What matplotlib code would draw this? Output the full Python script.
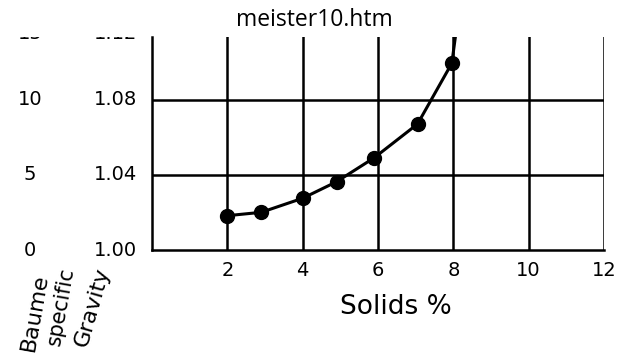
import matplotlib.pyplot as plt
from matplotlib.transforms import Bbox, TransformedBbox

# solids % vs specific gravity
solids = [2.0, 2.9, 4.0, 4.9, 5.9, 7.05, 7.96]
gravity = [1.0183, 1.0201, 1.0276, 1.0364, 1.0492, 1.0672, 1.0996]
# the hand drawn curve keeps going up past the last point
curve_x = solids + [8.07]
curve_y = gravity + [1.116]

x_ticks = [2, 4, 6, 8, 10, 12]
sg_ticks = [1.00, 1.04, 1.08, 1.12]
sg_labels = ["1.00", "1.04", "1.08", "1.12"]
baume_labels = ["0", "5", "10", "15"]

fig = plt.figure(figsize=(6.2, 3.61), dpi=100)
ax = fig.add_axes([152/620, 1 - 250/361, 452/620, 213/361])
ax.set_xlim(0, 12)
ax.set_ylim(1.0, 1.1136)

for x in x_ticks:
    ax.axvline(x, color="black", lw=1.8, zorder=1)
for y in sg_ticks[1:3]:
    ax.axhline(y, color="black", lw=1.8, zorder=1)

ax.plot(curve_x, curve_y, color="black", lw=2.2, zorder=2)
ax.plot(solids, gravity, "o", color="black", ms=10, zorder=3)

ax.spines["top"].set_visible(False)
ax.spines["right"].set_visible(False)
for s in ["left", "bottom"]:
    ax.spines[s].set_linewidth(1.8)

ax.set_xticks(x_ticks)
ax.set_xticklabels([str(x) for x in x_ticks], fontsize=14)
ax.tick_params(axis="x", length=0, pad=8)
ax.set_yticks([])

# scan is cut at the top of the plot, so the top labels only peek out
clip = TransformedBbox(Bbox([[0, 0], [1, 1 - 37/361]]), fig.transFigure)
tr = ax.get_yaxis_transform()
for y, sg, b in zip(sg_ticks, sg_labels, baume_labels):
    if y > 1.1:
        yy = 1.1127
        t1 = ax.text(-0.033, yy, sg, transform=tr, ha="right", va="baseline", fontsize=14, clip_on=True)
        t2 = ax.text(-0.27, yy, b, transform=tr, ha="center", va="baseline", fontsize=14, clip_on=True)
        t1.set_clip_box(clip)
        t2.set_clip_box(clip)
    else:
        ax.text(-0.033, y, sg, transform=tr, ha="right", va="center", fontsize=14, clip_on=False)
        ax.text(-0.27, y, b, transform=tr, ha="center", va="center", fontsize=14, clip_on=False)

ax.set_xlabel("Solids %", fontsize=19)
ax.xaxis.set_label_coords(0.54, -0.268)
ax.xaxis.label.set_va("center")

fig.text(35/620, 1 - 312/361, "Baume", rotation=80, ha="center", va="center", fontsize=16)
fig.text(61/620, 1 - 306/361, "specific", rotation=80, ha="center", va="center", fontsize=15)
fig.text(92/620, 1 - 307/361, "Gravity", rotation=74, ha="center", va="center", fontsize=16)

fig.text(314/620, 1 - 20/361, "meister10.htm", ha="center", va="center",
         fontsize=16.5, family="Open Sans")

fig.savefig("out.png", dpi=100)
